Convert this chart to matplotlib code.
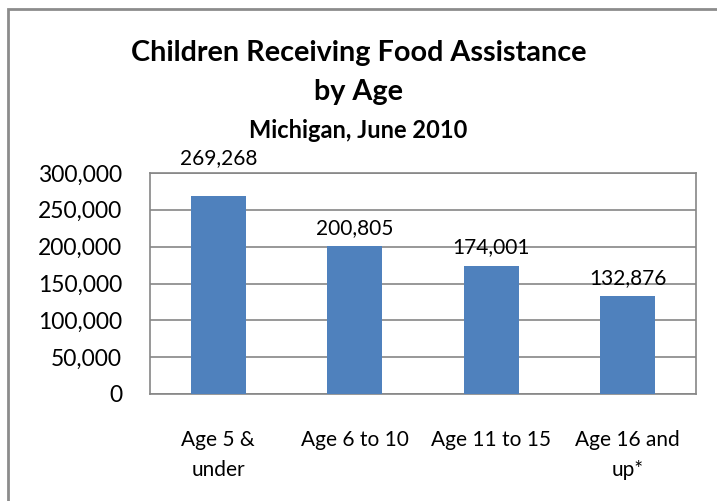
import matplotlib.pyplot as plt
from matplotlib.patches import Rectangle
from matplotlib.ticker import FuncFormatter

categories = ["Age 5 &\nunder", "Age 6 to 10", "Age 11 to 15", "Age 16 and\nup*"]
children = [269268, 200805, 174001, 132876]
yticks = [0, 50000, 100000, 150000, 200000, 250000, 300000]

plt.rcParams['font.family'] = ['Lato', 'DejaVu Sans']

fig = plt.figure(figsize=(7.17, 5.01), dpi=100)
ax = fig.add_axes([150 / 717, 1 - 394 / 501, (696 - 150) / 717, (394 - 173) / 501])

grey = "#868686"
x = range(len(categories))
bars = ax.bar(x, children, width=0.4, color="#4f81bd", zorder=3)

ax.set_xlim(-0.5, len(categories) - 0.5)
ax.set_ylim(0, 300000)
ax.set_yticks(yticks)
ax.yaxis.set_major_formatter(FuncFormatter(lambda v, p: f"{int(v):,}"))
ax.set_xticks(list(x))
ax.set_xticklabels(categories, fontsize=15, linespacing=1.62)
ax.tick_params(axis="y", length=0, labelsize=16.5, pad=20)
ax.tick_params(axis="x", length=0, pad=26)
ax.grid(axis="y", color=grey, linewidth=1.2, zorder=0)
for s in ax.spines.values():
    s.set_color(grey)
    s.set_linewidth(1.2)

# excel label positions (first one sits higher)
offsets = [20, 6, 6, 6]
for b, v, off in zip(bars, children, offsets):
    ax.annotate(f"{v:,}", (b.get_x() + b.get_width() / 2, v), xytext=(0, off),
                textcoords="offset points", ha="center", va="bottom", fontsize=15)

fig.text(0.5, 1 - 53 / 501, "Children Receiving Food Assistance", ha="center", va="center",
         fontsize=20.7, fontweight="bold")
fig.text(0.5, 1 - 92 / 501, "by Age", ha="center", va="center", fontsize=20.7, fontweight="bold")
fig.text(0.5, 1 - 130 / 501, "Michigan, June 2010", ha="center", va="center",
         fontsize=17, fontweight="bold")

fig.patches.append(Rectangle((8 / 717, -0.1), 1.2, 1 - 9 / 501 + 0.1, transform=fig.transFigure,
                             fill=False, edgecolor="#8c8c8c", linewidth=2))

fig.savefig("out.png", dpi=100)
